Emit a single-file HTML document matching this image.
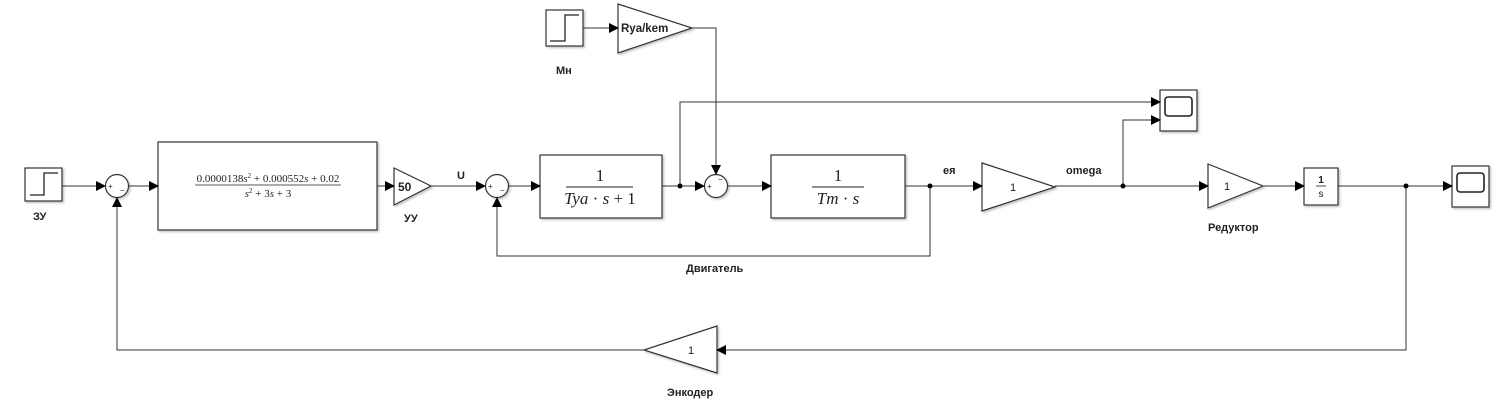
<!DOCTYPE html>
<html><head><meta charset="utf-8"><style>
html,body{margin:0;padding:0;background:#fff;}
svg{display:block;}
text{font-family:"Liberation Sans",sans-serif;fill:#222;}
.m{font-family:"Liberation Serif",serif;}
</style></head><body>
<svg width="1506" height="412" viewBox="0 0 1506 412" xmlns="http://www.w3.org/2000/svg">
<defs>
<marker id="a" markerWidth="10" markerHeight="10" refX="9" refY="5" orient="auto" markerUnits="userSpaceOnUse">
<path d="M0,0 L10,5 L0,10 Z" fill="#000"/></marker>
<filter id="sh" x="-10%" y="-10%" width="130%" height="130%"><feDropShadow dx="1.5" dy="1.5" stdDeviation="1" flood-color="#999" flood-opacity="0.6"/></filter>
</defs>
<g fill="#fff" stroke="#333" stroke-width="1.2" filter="url(#sh)">
<rect x="25" y="168" width="37" height="33"/>
<rect x="546" y="10" width="37" height="36"/>
<rect x="158" y="142" width="219" height="88"/>
<polygon points="394,168 431,186 394,205"/>
<polygon points="618,4 692,28 618,53"/>
<rect x="540" y="155" width="122" height="63"/>
<rect x="771" y="155" width="134" height="63"/>
<polygon points="982,163 1055,187 982,211"/>
<polygon points="1208,164 1263,186 1208,208"/>
<rect x="1304" y="168" width="34" height="37"/>
<rect x="1160" y="90" width="37" height="41"/>
<rect x="1452" y="166" width="37" height="41"/>
<polygon points="717,326 644,350 717,373"/>
<circle cx="117" cy="186" r="11.5"/>
<circle cx="497" cy="186" r="11.5"/>
<circle cx="716" cy="186" r="11.5"/>
</g>
<path d="M30,195 H44 V173 H58" fill="none" stroke="#222" stroke-width="1.3"/>
<path d="M550,41 H565 V15 H579" fill="none" stroke="#222" stroke-width="1.3"/>
<rect x="1165" y="97" width="27" height="19" rx="3" fill="none" stroke="#222" stroke-width="1.6"/>
<rect x="1457" y="173" width="27" height="19" rx="3" fill="none" stroke="#222" stroke-width="1.6"/>
<g stroke="#333" stroke-width="1" fill="none">
<line x1="62" y1="186" x2="105" y2="186" marker-end="url(#a)"/>
<line x1="129" y1="186" x2="158" y2="186" marker-end="url(#a)"/>
<line x1="377" y1="186" x2="394" y2="186" marker-end="url(#a)"/>
<line x1="431" y1="186" x2="485" y2="186" marker-end="url(#a)"/>
<line x1="509" y1="186" x2="540" y2="186" marker-end="url(#a)"/>
<line x1="662" y1="186" x2="704" y2="186" marker-end="url(#a)"/>
<line x1="728" y1="186" x2="771" y2="186" marker-end="url(#a)"/>
<line x1="905" y1="186" x2="982" y2="186" marker-end="url(#a)"/>
<line x1="1055" y1="186" x2="1208" y2="186" marker-end="url(#a)"/>
<line x1="1263" y1="186" x2="1304" y2="186" marker-end="url(#a)"/>
<line x1="1338" y1="186" x2="1452" y2="186" marker-end="url(#a)"/>
<line x1="583" y1="28" x2="618" y2="28" marker-end="url(#a)"/>
<polyline points="692,28 716,28 716,174" marker-end="url(#a)"/>
<polyline points="680,186 680,102 1160,102" marker-end="url(#a)"/>
<polyline points="1123,186 1123,120 1160,120" marker-end="url(#a)"/>
<polyline points="930,186 930,256 497,256 497,198" marker-end="url(#a)"/>
<polyline points="1406,186 1406,350 717,350" marker-end="url(#a)"/>
<polyline points="644,350 117,350 117,198" marker-end="url(#a)"/>
</g>
<g fill="#000">
<circle cx="680" cy="186" r="2.5"/><circle cx="930" cy="186" r="2.5"/>
<circle cx="1123" cy="186" r="2.5"/><circle cx="1406" cy="186" r="2.5"/>
</g>
<g font-size="8">
<text x="108" y="189">+</text><text x="120" y="193">−</text>
<text x="488" y="189">+</text><text x="500" y="193">−</text>
<text x="707" y="189">+</text><text x="718" y="182">−</text>
</g>
<text class="m" x="268" y="182" font-size="11" text-anchor="middle">0.0000138<tspan font-style="italic">s</tspan><tspan font-size="7" dy="-4">2</tspan><tspan dy="4"> + 0.000552</tspan><tspan font-style="italic">s</tspan> + 0.02</text>
<line x1="195" y1="185" x2="341" y2="185" stroke="#222" stroke-width="0.8"/>
<text class="m" x="268" y="197" font-size="11" text-anchor="middle"><tspan font-style="italic">s</tspan><tspan font-size="7" dy="-4">2</tspan><tspan dy="4"> + 3</tspan><tspan font-style="italic">s</tspan> + 3</text>
<text class="m" x="600" y="181" font-size="17" text-anchor="middle">1</text>
<line x1="566" y1="187" x2="633" y2="187" stroke="#222" stroke-width="1"/>
<text class="m" x="600" y="204" font-size="17" text-anchor="middle"><tspan font-style="italic">Tya</tspan> · <tspan font-style="italic">s</tspan> + 1</text>
<text class="m" x="838" y="181" font-size="17" text-anchor="middle">1</text>
<line x1="812" y1="187" x2="864" y2="187" stroke="#222" stroke-width="1"/>
<text class="m" x="838" y="204" font-size="17" text-anchor="middle"><tspan font-style="italic">Tm</tspan> · <tspan font-style="italic">s</tspan></text>
<text x="398" y="191" font-size="12" font-weight="bold">50</text>
<text x="621" y="32" font-size="11.5" font-weight="bold">Rya/kem</text>
<text x="1010" y="191" font-size="11">1</text>
<text x="1224" y="190" font-size="11">1</text>
<text x="688" y="354" font-size="11">1</text>
<text x="1321" y="183" font-size="10" font-weight="bold" text-anchor="middle">1</text>
<line x1="1316" y1="186" x2="1326" y2="186" stroke="#222" stroke-width="0.8"/>
<text x="1321" y="197" font-size="10" text-anchor="middle">s</text>
<g font-size="11" font-weight="bold">
<text x="33" y="220">ЗУ</text>
<text x="404" y="222">УУ</text>
<text x="457" y="179">U</text>
<text x="556" y="74">Мн</text>
<text x="686" y="272">Двигатель</text>
<text x="943" y="174">ея</text>
<text x="1066" y="174">omega</text>
<text x="1208" y="231">Редуктор</text>
<text x="667" y="396">Энкодер</text>
</g>
</svg>
</body></html>
